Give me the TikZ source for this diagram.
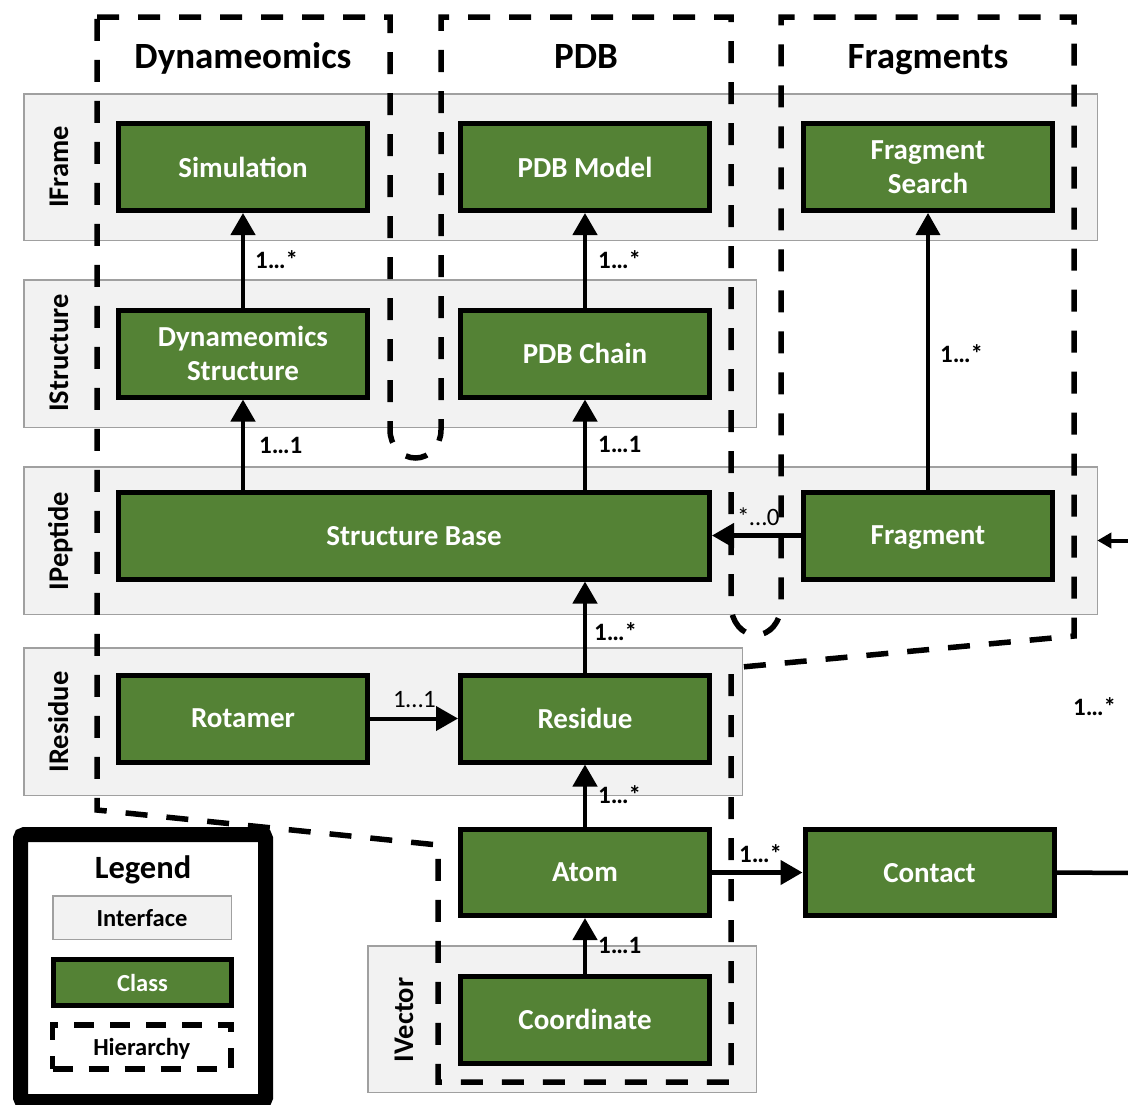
\documentclass[tikz,border=0pt]{standalone}
\usepackage{fontspec}
\setmainfont{Carlito}
\usetikzlibrary{arrows.meta,calc}
\definecolor{clsgreen}{HTML}{548235}
\definecolor{bandfill}{HTML}{F2F2F2}
\definecolor{bandborder}{HTML}{A0A0A0}
\tikzset{
  band/.style={draw=bandborder, fill=bandfill, line width=1.5pt, inner sep=0pt, outer sep=0pt},
  bandlabel/.style={rotate=90, anchor=base, font=\bfseries\fontsize{28.5}{30}\selectfont, inner sep=0pt},
  cls/.style={draw=black, fill=clsgreen, line width=5pt, text=white, font=\bfseries\fontsize{29}{34}\selectfont,
    align=center, inner sep=0pt, text depth=0pt, minimum width=249pt, minimum height=87pt},
  hier/.style={draw=black, line width=5.5pt, dash pattern=on 22pt off 19pt},
  assoc/.style={line width=4.5pt, -{Triangle[length=22pt,width=24pt]}},
  mult/.style={font=\bfseries\fontsize{25}{25}\selectfont, inner sep=0pt, anchor=base west},
  multreg/.style={font=\fontsize{25}{25}\selectfont, inner sep=0pt, anchor=base west},
  header/.style={font=\bfseries\fontsize{37}{40}\selectfont, inner sep=0pt, anchor=base},
  legtext/.style={font=\bfseries\fontsize{24.5}{26}\selectfont, inner sep=0pt, text depth=0pt},
}
\begin{document}
\begin{tikzpicture}[x=1pt,y=-1pt]
\useasboundingbox[fill=white] (0,0) rectangle (1128,1104);

% interface bands
\node[band, minimum width=1073.5pt, minimum height=146.5pt] (iframe) at (560.5,167) {};
\node[band, minimum width=732.5pt, minimum height=147.5pt] (istruct) at (390,353.5) {};
\node[band, minimum width=1073.5pt, minimum height=147.5pt] (ipept) at (560.5,540.5) {};
\node[band, minimum width=718.5pt, minimum height=147.5pt] (ires) at (383,721.5) {};
\node[band, minimum width=388.5pt, minimum height=146.5pt] (ivec) at (562,1019) {};

\node[bandlabel] (lframe) at (68,167) {IFrame};
\node[bandlabel] (lstruct) at (68,353) {IStructure};
\node[bandlabel] (lpept) at (68,541) {IPeptide};
\node[bandlabel] (lres) at (68,722) {IResidue};
\node[bandlabel] (lvec) at (413,1020) {IVector};

% hierarchy outline
\draw[hier] (97,17) -- (390,17) -- (390,430)
  .. controls (390,445.5) and (401.4,458) .. (415.5,458)
  .. controls (429.6,458) and (441,445.5) .. (441,430)
  -- (441,17) -- (731,17) -- (731,605)
  .. controls (731,621.6) and (742.2,635) .. (756,635)
  .. controls (769.8,635) and (781,621.6) .. (781,605)
  -- (781,17) -- (1074,17) -- (1074,636) -- (731,668) -- (731,1082)
  -- (438,1082) -- (438,845) -- (97,810) -- cycle;

% headers
\node[header] (hdyn) at (243,68) {Dynameomics};
\node[header] (hpdb) at (586,68) {PDB};
\node[header] (hfrag) at (928,68) {Fragments};

% classes
\node[cls] (sim) at (243,167) {Simulation};
\node[cls] (pdbm) at (585,167) {PDB Model};
\node[cls] (fsearch) at (928,167) {Fragment\\Search};
\node[cls] (dstruct) at (243,353.5) {Dynameomics\\Structure};
\node[cls] (pdbc) at (585,353.5) {PDB Chain};
\node[cls, minimum width=591pt] (sbase) at (414,535.5) {Structure Base};
\node[cls] (frag) at (928,535.5) {Fragment};
\node[cls] (rot) at (243,718.5) {Rotamer};
\node[cls] (res) at (585,718.5) {Residue};
\node[cls, minimum height=86pt] (atom) at (585,872.5) {Atom};
\node[cls, minimum height=86pt] (contact) at (929.5,872.5) {Contact};
\node[cls] (coord) at (585,1019.5) {Coordinate};

% connectors
\draw[assoc] (dstruct.north) -- (sim.south);
\draw[assoc] (pdbc.north) -- (pdbm.south);
\draw[assoc, line width=3.5pt] (frag.north) -- (fsearch.south);
\draw[assoc] (dstruct.south |- sbase.north) -- (dstruct.south);
\draw[assoc] (pdbc.south |- sbase.north) -- (pdbc.south);
\draw[assoc] (frag.west) -- (sbase.east);
\draw[assoc] (res.north) -- (res.north |- sbase.south);
\draw[assoc, line width=4pt] (rot.east) -- (res.west);
\draw[assoc] (atom.north) -- (res.south);
\draw[assoc] (atom.east) -- (contact.west);
\draw[assoc] (coord.north) -- (atom.south);
\coordinate (rightend) at (1132,873);
\draw[line width=4.5pt] (contact.east) -- (rightend);
\coordinate (rightin) at (1132,540.5);
\draw[line width=4pt, -{Triangle[length=14pt,width=15pt]}] (rightin) -- (ipept.east);

% multiplicities
\node[mult] (m1) at (255,268) {1…*};
\node[mult] (m2) at (598,268) {1…*};
\node[mult] (m3) at (940,362) {1…*};
\node[mult] (m4) at (259,453) {1…1};
\node[mult] (m5) at (598,452) {1…1};
\node[multreg] (m6) at (737,525) {*…0};
\node[mult] (m7) at (594,640) {1…*};
\node[multreg] (m8) at (393,707) {1…1};
\node[mult] (m9) at (598,803) {1…*};
\node[mult] (m10) at (739,862) {1…*};
\node[mult] (m11) at (598,953) {1…1};
\node[mult] (m12) at (1073,715) {1…*};

% legend
\node[draw=black, fill=white, line width=15pt, rounded corners=4pt, inner sep=0pt, outer sep=0pt,
  minimum width=245pt, minimum height=267pt, anchor=north west] (legend) at (20.5,834.5) {};
\node[font=\bfseries\fontsize{32.5}{34}\selectfont, inner sep=0pt, anchor=base] (legtitle) at (143,878) {Legend};
\node[band, legtext, minimum width=178.5pt, minimum height=43.5pt] (legif) at (142,917.5) {Interface};
\node[cls, legtext, text=white, minimum width=178pt, minimum height=46pt] (legcls) at (142.5,982.5) {Class};
\node[hier, legtext, minimum width=178.5pt, minimum height=44pt, dash pattern=on 20pt off 16pt] (leghier) at (141.75,1047) {Hierarchy};
\end{tikzpicture}
\end{document}
